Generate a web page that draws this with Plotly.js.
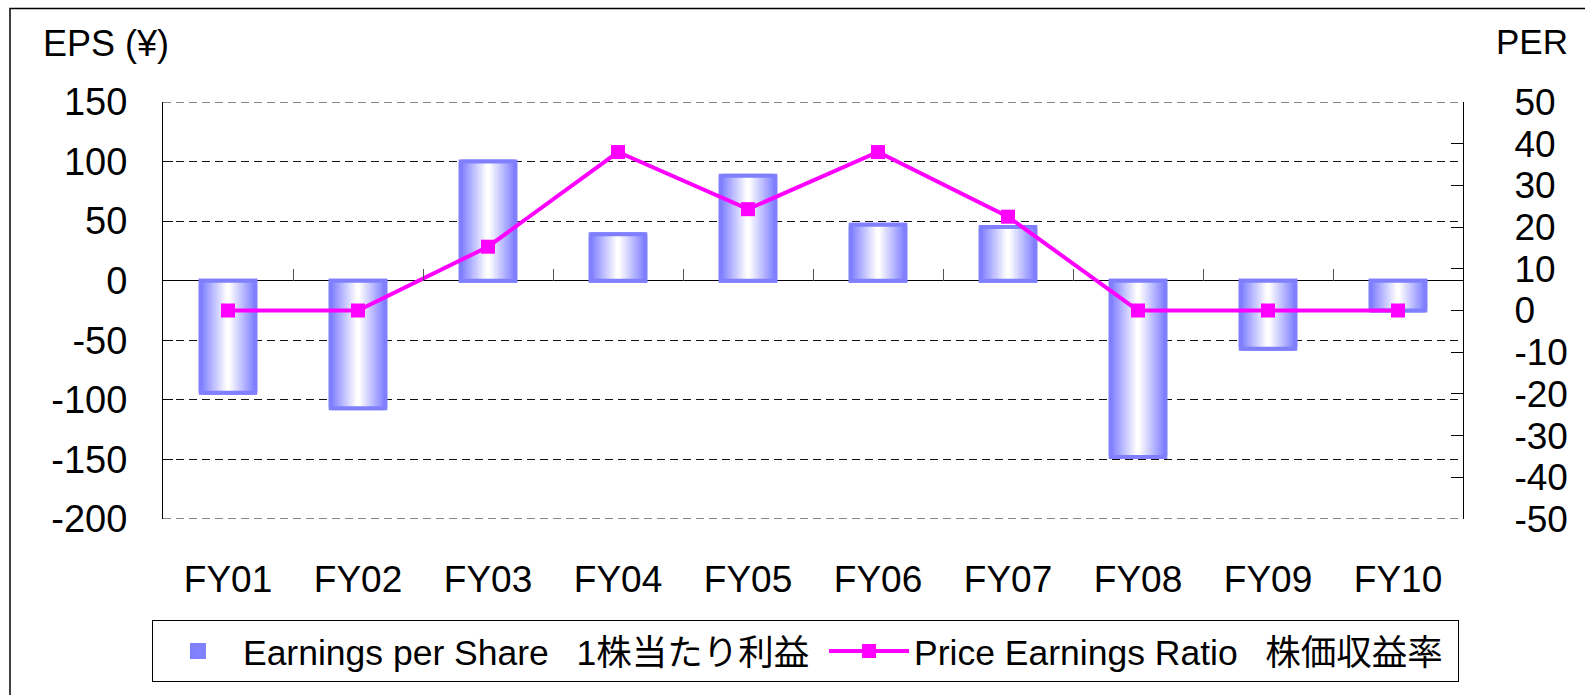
<!DOCTYPE html>
<html>
<head>
<meta charset="utf-8">
<script src="https://cdn.plot.ly/plotly-3.0.1.min.js"></script>
<style>
html,body{margin:0;padding:0;background:#fff;}
#chart{width:1585px;height:695px;}
</style>
</head>
<body>
<div id="chart"></div>
<script>
// ---- data ----
const categories = ["FY01","FY02","FY03","FY04","FY05","FY06","FY07","FY08","FY09","FY10"];
const epsValues = [-94, -107, 100, 39, 88, 47, 45, -148, -57, -25];
const perValues = [0, 0, 15.3, 38, 24.3, 38, 22.5, 0, 0, 0];
const epsTickVals = [150, 100, 50, 0, -50, -100, -150, -200];
const epsTickText = ["150", "100", "50", "0", "-50", "-100", "-150", "-200"];
const perTickVals = [50, 40, 30, 20, 10, 0, -10, -20, -30, -40, -50];
const perTickText = ["50", "40", "30", "20", "10", "0", "-10", "-20", "-30", "-40", "-50"];
const epsName = "Earnings per Share\u2002\u00a01株当たり利益\u00a0";
const perName = "Price Earnings Ratio\u2002\u00a0株価収益率\u00a0";
const epsAxisTitle = "EPS (¥)";
const perAxisTitle = "PER";

// ---- style ----
const FONT = "'Liberation Sans', 'Noto Sans CJK JP', Arial, sans-serif";
const barWidth = 0.42;
const layers = 12;
const edgeRGB = [130, 130, 255];
const borderColor = "#8080FF";
const lineColor = "#FF00FF";
const gridColor = "#111";
const gridDash = "8px,5px";

const traces = [];
for (let k = 0; k < layers; k++) {
  const t = k / (layers - 1);
  const c = edgeRGB.map(v => Math.round(v + (255 - v) * t));
  traces.push({
    type: "bar",
    x: categories,
    y: epsValues,
    width: barWidth * (1 - k / layers),
    name: epsName,
    showlegend: k === 0,
    marker: {
      color: `rgb(${c[0]},${c[1]},${c[2]})`,
      line: {width: k === 0 ? 4 : 0, color: borderColor}
    },
    hoverinfo: "skip",
    xaxis: "x", yaxis: "y"
  });
}
// border drawn on top of the gradient layers
traces.push({
  type: "bar",
  x: categories,
  y: epsValues,
  width: barWidth,
  showlegend: false,
  marker: {color: "rgba(0,0,0,0)", line: {width: 4, color: borderColor}, cornerradius: 2},
  hoverinfo: "skip",
  xaxis: "x", yaxis: "y"
});
traces.push({
  type: "scatter",
  mode: "lines+markers",
  x: categories,
  y: perValues,
  name: perName,
  line: {color: lineColor, width: 4},
  marker: {symbol: "square", size: 14, color: lineColor},
  hoverinfo: "skip",
  xaxis: "x2", yaxis: "y2"
});

const yMin = epsTickVals[epsTickVals.length - 1], yMax = epsTickVals[0];

const layout = {
  width: 1585, height: 695,
  paper_bgcolor: "#fff", plot_bgcolor: "#fff",
  font: {family: FONT, color: "#000", size: 34},
  margin: {l: 163, r: 122, t: 102, b: 174},
  barmode: "overlay",
  showlegend: true,
  xaxis: {
    type: "category",
    range: [-0.5, categories.length - 0.5],
    showgrid: false, zeroline: false, showline: false,
    ticks: "", tickfont: {size: 37, family: FONT},
    ticklabelstandoff: 35,
    fixedrange: true
  },
  xaxis2: {
    type: "category",
    overlaying: "x",
    anchor: "free",
    position: (0 - yMin) / (yMax - yMin),
    side: "bottom",
    range: [-0.5, categories.length - 0.5],
    tickson: "boundaries",
    ticks: "inside", ticklen: 12, tickwidth: 1, tickcolor: "#555",
    showticklabels: false, showgrid: false, zeroline: false, showline: false,
    fixedrange: true
  },
  yaxis: {
    range: [yMin, yMax],
    tickmode: "array", tickvals: epsTickVals, ticktext: epsTickText,
    showgrid: true, gridcolor: gridColor, gridwidth: 1, griddash: gridDash,
    zeroline: true, zerolinecolor: "#000", zerolinewidth: 1,
    showline: true, linecolor: "#000", linewidth: 1,
    ticks: "inside", ticklen: 10, tickcolor: "#000",
    tickfont: {size: 38, family: FONT},
    ticklabelstandoff: 27,
    fixedrange: true
  },
  yaxis2: {
    overlaying: "y", side: "right", anchor: "x",
    range: [perTickVals[perTickVals.length - 1], perTickVals[0]],
    tickmode: "array", tickvals: perTickVals, ticktext: perTickText,
    showgrid: false, zeroline: false,
    showline: true, linecolor: "#000", linewidth: 1,
    ticks: "inside", ticklen: 12, tickcolor: "#000",
    tickfont: {size: 37, family: FONT},
    ticklabelstandoff: 43,
    fixedrange: true
  },
  legend: {
    orientation: "h",
    x: -0.0085, xanchor: "left",
    y: -0.2434, yanchor: "top",
    bordercolor: "#000", borderwidth: 1,
    bgcolor: "#fff",
    font: {size: 35.5, family: FONT},
    itemwidth: 80,
    traceorder: "normal"
  },
  annotations: [
    {text: epsAxisTitle, xref: "paper", yref: "paper", x: -0.094, y: 1.14,
     xanchor: "left", yanchor: "middle", showarrow: false, font: {size: 36, family: FONT}},
    {text: perAxisTitle, xref: "paper", yref: "paper", x: 1.0235, y: 1.1456,
     xanchor: "left", yanchor: "middle", showarrow: false, font: {size: 35, family: FONT}}
  ],
  shapes: [
    {type: "rect", xref: "paper", yref: "paper", x0: -0.1177, x1: 1.5, y0: -0.6, y1: 1.2243,
     line: {color: "#000", width: 1.5}, fillcolor: "rgba(0,0,0,0)", layer: "below"},
    {type: "line", xref: "paper", yref: "y", x0: 0, x1: 1, y0: yMax, y1: yMax,
     line: {color: gridColor, width: 1, dash: gridDash}, layer: "below"},
    {type: "line", xref: "paper", yref: "y", x0: 0, x1: 1, y0: yMin, y1: yMin,
     line: {color: gridColor, width: 1, dash: gridDash}, layer: "below"}
  ]
};

Plotly.newPlot("chart", traces, layout, {displayModeBar: false, staticPlot: true});
</script>
</body>
</html>
